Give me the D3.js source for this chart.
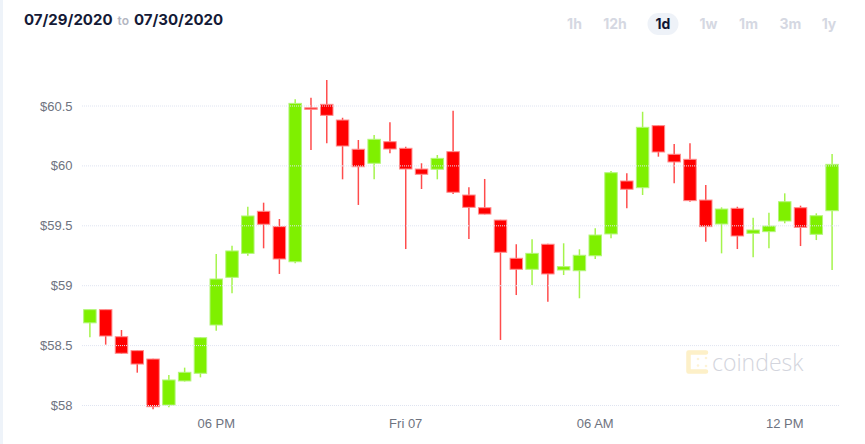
<!DOCTYPE html>
<html lang="en">
<head>
  <meta charset="UTF-8">
  <title>Candlestick 07/29/2020 to 07/30/2020</title>
  <script src="https://d3js.org/d3.v7.min.js"></script>
  <style>
    body {
      margin: 0;
      background: #fff;
    }
    svg {
      display: block;
    }
    .axis-label {
      font-family: "Liberation Sans", Arial, sans-serif;
      font-size: 13px;
      fill: #6e7380;
    }
    .header {
      font-family: Inter, "Noto Sans", sans-serif;
      font-weight: 700;
    }
  </style>
</head>
<body>
  <svg id="chart"></svg>

  <script>
    const width = 865, height = 444;

    // 30-minute candles, 07/29 14:00 -> 07/30 13:30
    const times = [
      "07-29 14:00", "07-29 14:30", "07-29 15:00", "07-29 15:30", "07-29 16:00", "07-29 16:30",
      "07-29 17:00", "07-29 17:30", "07-29 18:00", "07-29 18:30", "07-29 19:00", "07-29 19:30",
      "07-29 20:00", "07-29 20:30", "07-29 21:00", "07-29 21:30", "07-29 22:00", "07-29 22:30",
      "07-29 23:00", "07-29 23:30", "07-30 00:00", "07-30 00:30", "07-30 01:00", "07-30 01:30",
      "07-30 02:00", "07-30 02:30", "07-30 03:00", "07-30 03:30", "07-30 04:00", "07-30 04:30",
      "07-30 05:00", "07-30 05:30", "07-30 06:00", "07-30 06:30", "07-30 07:00", "07-30 07:30",
      "07-30 08:00", "07-30 08:30", "07-30 09:00", "07-30 09:30", "07-30 10:00", "07-30 10:30",
      "07-30 11:00", "07-30 11:30", "07-30 12:00", "07-30 12:30", "07-30 13:00", "07-30 13:30"
    ];

    const open = [58.69, 58.80, 58.574, 58.458, 58.388, 58.004, 58.205, 58.269, 58.672, 59.07, 59.27, 59.621,
      59.493, 59.2, 60.485, 60.514, 60.383, 60.139, 60.022, 60.202, 60.147, 59.974, 59.972, 60.119,
      59.757, 59.651, 59.548, 59.229, 59.137, 59.346, 59.131, 59.125, 59.25, 59.432, 59.874, 59.818,
      60.336, 60.097, 60.055, 59.715, 59.515, 59.646, 59.437, 59.451, 59.54, 59.651, 59.429, 59.626];

    const high = [58.80, 58.80, 58.63, 58.46, 58.39, 58.255, 58.316, 58.57, 59.265, 59.334, 59.659, 59.693,
      59.557, 60.556, 60.569, 60.717, 60.402, 60.216, 60.258, 60.364, 60.16, 60.022, 60.091, 60.461,
      59.821, 59.891, 59.55, 59.346, 59.387, 59.35, 59.354, 59.304, 59.479, 59.957, 59.938, 60.452,
      60.34, 60.183, 60.189, 59.841, 59.654, 59.659, 59.568, 59.609, 59.771, 59.668, 59.604, 60.099];

    const low = [58.569, 58.508, 58.43, 58.274, 57.968, 57.985, 58.20, 58.235, 58.624, 58.937, 59.25, 59.312,
      59.098, 59.187, 60.133, 60.189, 59.888, 59.674, 59.888, 60.105, 59.306, 59.807, 59.888, 59.765,
      59.39, 59.595, 58.547, 58.922, 59.006, 58.866, 59.089, 58.895, 59.223, 59.396, 59.646, 59.757,
      60.077, 59.855, 59.701, 59.367, 59.27, 59.306, 59.237, 59.312, 59.521, 59.331, 59.381, 59.131];

    const close = [58.80, 58.58, 58.436, 58.346, 57.99, 58.213, 58.277, 58.566, 59.056, 59.29, 59.582, 59.513,
      59.223, 60.522, 60.48, 60.422, 60.166, 59.993, 60.222, 60.141, 59.974, 59.93, 60.063, 59.78,
      59.654, 59.598, 59.279, 59.137, 59.27, 59.098, 59.159, 59.254, 59.423, 59.943, 59.805, 60.322,
      60.116, 60.033, 59.71, 59.493, 59.64, 59.415, 59.465, 59.498, 59.701, 59.487, 59.584, 60.013];

    const yTicks = [58, 58.5, 59, 59.5, 60, 60.5];
    const xTickTimes = ["07-29 18:00", "07-30 00:00", "07-30 06:00", "07-30 12:00"];
    const xTickLabels = ["06 PM", "Fri 07", "06 AM", "12 PM"];
    const ranges = ["1h", "12h", "1d", "1w", "1m", "3m", "1y"];
    const activeRange = "1d";

    const parse = d3.timeParse("%m-%d %H:%M");
    const candles = times.map((t, i) => ({
      t: parse(t), o: open[i], h: high[i], l: low[i], c: close[i]
    }));

    const svg = d3.select("#chart")
      .attr("width", width)
      .attr("height", height);

    // pale strip on the left edge
    svg.append("rect")
      .attr("x", 0).attr("y", 0)
      .attr("width", 3).attr("height", height)
      .attr("fill", "#eef3f9");

    const half = 15 * 60 * 1000;
    const x = d3.scaleTime()
      .domain([new Date(candles[0].t - half), new Date(+candles[candles.length - 1].t + half)])
      .range([82, 840]);

    const y = d3.scaleLinear()
      .domain([58, 60.5])
      .range([405.5, 106]);

    const step = x(candles[1].t) - x(candles[0].t);
    const bodyW = step * 0.79;

    // header
    const header = svg.append("text")
      .attr("class", "header")
      .attr("x", 24)
      .attr("y", 25)
      .attr("fill", "#141a36")
      .attr("font-size", 15);
    header.append("tspan").text("07/29/2020");
    header.append("tspan").attr("dx", 5).attr("font-size", 12).attr("fill", "#b3b6c2").attr("font-weight", 600).text("to");
    header.append("tspan").attr("dx", 5).text("07/30/2020");

    // range buttons
    const btnCenters = [574.5, 615, 663, 708.5, 748.5, 790.5, 829];
    const btns = svg.append("g");
    btns.append("rect")
      .attr("x", btnCenters[ranges.indexOf(activeRange)] - 15.5)
      .attr("y", 13)
      .attr("width", 31).attr("height", 22)
      .attr("rx", 11)
      .attr("fill", "#eef2f8");
    btns.selectAll("text")
      .data(ranges)
      .join("text")
      .attr("class", "header")
      .attr("x", (d, i) => btnCenters[i])
      .attr("y", 29)
      .attr("text-anchor", "middle")
      .attr("font-size", 14)
      .attr("fill", d => d === activeRange ? "#111634" : "#d5d8e2")
      .text(d => d);

    // watermark
    const wm = svg.append("g");
    wm.append("path")
      .attr("d", "M706,352.5 H688.5 V371.5 H706")
      .attr("fill", "none")
      .attr("stroke", "#fdf0c8")
      .attr("stroke-width", 4.5)
      .attr("stroke-linecap", "round")
      .attr("stroke-linejoin", "round");
    [[698, 359], [698, 365.5], [706, 358], [706, 366]].forEach(p => {
      wm.append("circle").attr("cx", p[0]).attr("cy", p[1]).attr("r", 1.3).attr("fill", "#fdf3d6");
    });
    wm.append("text")
      .attr("x", 712)
      .attr("y", 371)
      .attr("font-family", "'Open Sans', 'Liberation Sans', sans-serif")
      .attr("font-weight", 300)
      .attr("font-size", 23)
      .attr("fill", "#d3d5dd")
      .text("coindesk");

    // candles
    const up = "#7ff000", down = "#ff0000";
    const g = svg.append("g");
    const candle = g.selectAll("g")
      .data(candles)
      .join("g")
      .attr("transform", d => `translate(${x(d.t)},0)`);

    candle.append("line")
      .attr("y1", d => y(d.h))
      .attr("y2", d => y(d.l))
      .attr("stroke", d => d.c >= d.o ? up : down)
      .attr("stroke-opacity", 0.7)
      .attr("stroke-width", 1.5);

    candle.append("rect")
      .attr("x", -bodyW / 2)
      .attr("width", bodyW)
      .attr("y", d => y(Math.max(d.o, d.c)))
      .attr("height", d => Math.max(1.5, Math.abs(y(d.o) - y(d.c))))
      .attr("fill", d => d.c >= d.o ? up : down)
      .attr("stroke", d => d.c >= d.o ? "#b4f57a" : "#ff8c8c")
      .attr("stroke-width", 1);

    // dotted grid lines over the candles
    svg.append("g")
      .selectAll("line")
      .data(yTicks)
      .join("line")
      .attr("x1", 82).attr("x2", 840)
      .attr("y1", d => y(d)).attr("y2", d => y(d))
      .attr("stroke", "#dfe4f1")
      .attr("stroke-width", 1)
      .attr("stroke-dasharray", "1,1");

    svg.append("g")
      .selectAll("text")
      .data(yTicks)
      .join("text")
      .attr("class", "axis-label")
      .attr("x", 72.5)
      .attr("y", d => y(d))
      .attr("dy", "0.35em")
      .attr("text-anchor", "end")
      .text(d => "$" + d);

    svg.append("g")
      .selectAll("text")
      .data(xTickTimes)
      .join("text")
      .attr("class", "axis-label")
      .attr("x", d => x(parse(d)))
      .attr("y", 428)
      .attr("text-anchor", "middle")
      .text((d, i) => xTickLabels[i]);
  </script>
</body>
</html>
